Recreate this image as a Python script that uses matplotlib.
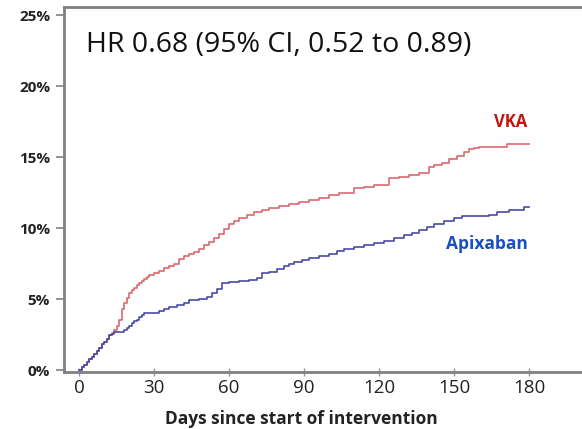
import matplotlib
matplotlib.use("Agg")
import matplotlib.pyplot as plt

# ---- data ----
vka_days = [0, 1, 2, 3, 4, 5, 6, 7, 8, 9, 10, 11, 12, 13, 14, 15, 16, 17, 18, 19, 20,
            21, 22, 23, 24, 25, 26, 27, 28, 30, 32, 34, 36, 38, 40, 42, 44, 46, 48, 50,
            52, 54, 56, 58, 60, 62, 64, 67, 70, 73, 76, 80, 84, 88, 92, 96, 100, 104,
            110, 114, 118, 124, 128, 132, 136, 140, 142, 145, 148, 151, 154, 156, 158,
            160, 171, 180]
vka_pct = [0, 0.2, 0.35, 0.55, 0.75, 0.95, 1.15, 1.35, 1.55, 1.8, 2.0, 2.2, 2.45, 2.6,
           2.85, 3.1, 3.5, 4.3, 4.7, 5.1, 5.4, 5.6, 5.8, 6.0, 6.1, 6.25, 6.4, 6.55, 6.7,
           6.85, 7.0, 7.2, 7.35, 7.5, 7.8, 8.0, 8.15, 8.3, 8.55, 8.8, 9.0, 9.3, 9.6, 9.9,
           10.3, 10.5, 10.7, 10.9, 11.1, 11.3, 11.4, 11.55, 11.7, 11.8, 12.0, 12.1, 12.3,
           12.5, 12.8, 12.9, 13.0, 13.5, 13.6, 13.7, 13.85, 14.3, 14.45, 14.6, 14.85,
           15.1, 15.35, 15.6, 15.65, 15.7, 15.9, 15.9]

apx_days = [0, 1, 2, 3, 4, 5, 6, 7, 8, 9, 10, 11, 12, 13, 14, 16, 18, 19, 20, 21, 22,
            23, 24, 25, 26, 30, 32, 34, 36, 39, 42, 44, 48, 51, 53, 55, 57, 60, 64, 68,
            71, 73, 76, 79, 82, 84, 86, 89, 92, 96, 100, 103, 106, 110, 114, 118, 122,
            126, 130, 133, 136, 139, 142, 146, 150, 153, 164, 167, 172, 178, 180]
apx_pct = [0, 0.2, 0.35, 0.55, 0.75, 0.95, 1.15, 1.35, 1.55, 1.8, 2.0, 2.2, 2.45, 2.55,
           2.65, 2.7, 2.8, 2.95, 3.1, 3.3, 3.45, 3.55, 3.7, 3.9, 4.0, 4.05, 4.15, 4.3,
           4.45, 4.55, 4.7, 4.9, 5.0, 5.15, 5.4, 5.7, 6.1, 6.2, 6.25, 6.35, 6.5, 6.8,
           6.9, 7.1, 7.3, 7.5, 7.6, 7.75, 7.9, 8.0, 8.15, 8.35, 8.55, 8.65, 8.8, 8.95,
           9.1, 9.3, 9.5, 9.65, 9.85, 10.1, 10.3, 10.5, 10.7, 10.85, 10.95, 11.15, 11.3,
           11.5, 11.5]

x_ticks = [0, 30, 60, 90, 120, 150, 180]
y_ticks = [0, 5, 10, 15, 20, 25]
y_labels = ["0%", "5%", "10%", "15%", "20%", "25%"]

title_text = "HR 0.68 (95% CI, 0.52 to 0.89)"
x_label = "Days since start of intervention"

# ---- figure ----
plt.rcParams['font.family'] = ['Open Sans', 'DejaVu Sans']
W, H = 582, 429
fig = plt.figure(figsize=(W / 100, H / 100), dpi=100)
ax = fig.add_axes([64 / W, 1 - 372 / H, 1 - 64 / W, (372 - 7.5) / H])

ax.plot(vka_days, vka_pct, drawstyle='steps-post', color='#d86a6e', lw=1.2)
ax.plot(apx_days, apx_pct, drawstyle='steps-post', color='#4a4aa6', lw=1.2)

ax.set_xlim(-6, 201.2)
ax.set_ylim(-0.14, 25.53)

ax.set_xticks(x_ticks)
ax.set_xticklabels([str(v) for v in x_ticks], fontsize=13.5, color='#222222')
ax.set_yticks(y_ticks)
ax.set_yticklabels(y_labels, fontsize=11, fontweight='bold', color='#222222')

ax.tick_params(axis='y', direction='out', length=6, width=1.2, color='#808080', pad=4)
ax.tick_params(axis='x', direction='inout', length=6, width=1.0, color='#999999', pad=2)

for side in ['left', 'bottom', 'top']:
    ax.spines[side].set_color('#808080')
    ax.spines[side].set_linewidth(2)
ax.spines['right'].set_visible(False)

ax.set_xlabel(x_label, fontsize=12.5, fontweight='bold', color='#222222', labelpad=9)
ax.xaxis.set_label_coords((301.5 - 64) / (W - 64), -0.105)

fig.text(86 / W, 1 - 45 / H, title_text, fontsize=20.5, color='#111111',
         va='center', ha='left')
ax.text(179.5, 17.5, "VKA", color='#c0140c', fontsize=12, fontweight='bold',
        ha='right', va='center')
ax.text(179.5, 8.9, "Apixaban", color='#1a4fc0', fontsize=12.5, fontweight='bold',
        ha='right', va='center')

fig.savefig("out.png", dpi=100)
